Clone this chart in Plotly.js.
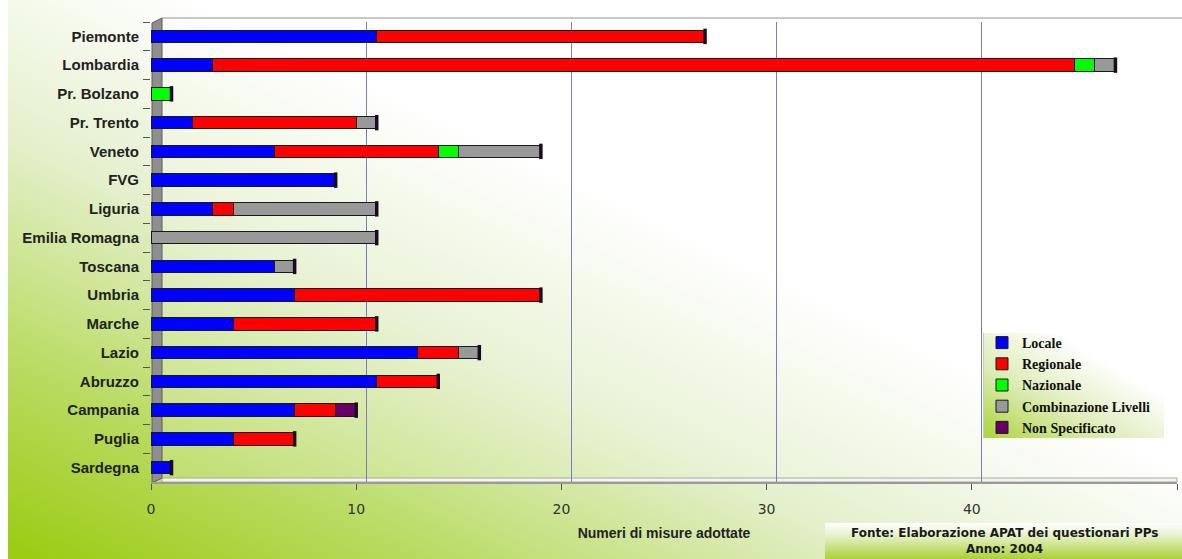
<!DOCTYPE html>
<html>
<head>
<meta charset="utf-8">
<script src="https://cdn.plot.ly/plotly-3.0.1.min.js"></script>
<style>
  html, body { margin: 0; padding: 0; background: #ffffff; }
  #wrap { position: relative; width: 1182px; height: 559px; overflow: hidden; }
  #bg {
    position: absolute; left: 8px; top: 0; width: 1174px; height: 559px;
    background: linear-gradient(to top right, #9acb10 0%, #b9db62 18%, #e4f0cc 38%, #ffffff 58%);
  }
  #legbox {
    position: absolute; left: 983px; top: 333px; width: 180px; height: 105px;
    background: linear-gradient(to top right, #9acb10 0%, #d6e9a8 35%, #ffffff 70%);
    border-left: 1px solid #b8bcd0;
  }
  #srcbox {
    position: absolute; left: 825px; top: 523px; width: 357px; height: 36px;
    background: linear-gradient(to bottom, #ffffff 0%, #e6f1c9 35%, #a9d235 100%);
  }
  #chart { position: absolute; left: 0; top: 0; width: 1182px; height: 559px; }
</style>
</head>
<body>
<div id="wrap">
  <div id="bg"></div>
  <div id="legbox"></div>
  <div id="srcbox"></div>
  <div id="chart"></div>
</div>
<script>
// Regions, top to bottom
const regions = ["Piemonte", "Lombardia", "Pr. Bolzano", "Pr. Trento", "Veneto", "FVG", "Liguria",
  "Emilia Romagna", "Toscana", "Umbria", "Marche", "Lazio", "Abruzzo", "Campania", "Puglia", "Sardegna"];

// Number of measures adopted per level of government
const locale       = [11, 3, 0, 2, 6, 9, 3, 0, 6, 7, 4, 13, 11, 7, 4, 1];
const regionale    = [16, 42, 0, 8, 8, 0, 1, 0, 0, 12, 7, 2, 3, 2, 3, 0];
const nazionale    = [0, 1, 1, 0, 1, 0, 0, 0, 0, 0, 0, 0, 0, 0, 0, 0];
const combinazione = [0, 1, 0, 1, 4, 0, 7, 11, 1, 0, 0, 1, 0, 0, 0, 0];
const nonSpec      = [0, 0, 0, 0, 0, 0, 0, 0, 0, 0, 0, 0, 0, 1, 0, 0];

const seriesNames  = ["Locale", "Regionale", "Nazionale", "Combinazione Livelli", "Non Specificato"];
const seriesValues = [locale, regionale, nazionale, combinazione, nonSpec];
const seriesColors = ["#0000ff", "#ff0000", "#00ff00", "#999999", "#660066"];

const xTicks = [0, 10, 20, 30, 40, 50];

const traces = seriesNames.map((name, i) => ({
  type: "bar",
  orientation: "h",
  name: name,
  y: regions,
  x: seriesValues[i],
  marker: { color: seriesColors[i], line: { color: "#1a1a1a", width: 1 } },
  hoverinfo: "name+x"
}));

// dark end caps of the cylinders, at each stacked total
const totals = regions.map((_, k) => seriesValues.reduce((s, arr) => s + arr[k], 0));
traces.push({
  type: "scatter",
  mode: "markers",
  x: totals,
  y: regions,
  showlegend: false,
  hoverinfo: "skip",
  marker: { symbol: "line-ns", size: 11, line: { color: "#1b0b22", width: 3.5 } }
});

// empty trace so the overlaid gridline axis is drawn
traces.unshift({ type: "scatter", x: [], y: [], xaxis: "x2", showlegend: false, hoverinfo: "skip" });

// plot area: 1026 x 460 px
const PX = 1 / 1026, PY = 1 / 460;

const shapes = [
  // back-wall top edge
  { type: "line", xref: "paper", yref: "paper", x0: 11 * PX, x1: 1 + 5 * PX, y0: 1 + 4 * PY, y1: 1 + 4 * PY,
    line: { color: "#c8c8c8", width: 2 }, layer: "below" },
  // floor
  { type: "rect", xref: "paper", yref: "paper", x0: 11 * PX, x1: 1, y0: 0, y1: 4 * PY,
    fillcolor: "#f4f6ee", line: { color: "#a8a8a8", width: 1 }, layer: "below" },
  // left side wall
  { type: "path", xref: "paper", yref: "paper",
    path: `M ${1 * PX} ${-1 * PY} L ${11 * PX} ${4 * PY} L ${11 * PX} ${1 + 4 * PY} L ${1 * PX} ${1 - 1 * PY} Z`,
    fillcolor: "#8e8e8e", line: { color: "#5a5a5a", width: 1 }, layer: "below" }
];

const layout = {
  width: 1182, height: 559,
  margin: { l: 151, r: 5, t: 22, b: 77 },
  paper_bgcolor: "rgba(0,0,0,0)",
  plot_bgcolor: "rgba(255,255,255,0.18)",
  barmode: "stack",
  bargap: 0.56,
  showlegend: true,
  font: { family: "Liberation Sans, Arial, sans-serif", color: "#222" },
  xaxis: {
    range: [0, 50],
    tickvals: xTicks,
    ticktext: xTicks.map(String),
    ticks: "outside", ticklen: 6, tickcolor: "#555", tickwidth: 1,
    ticklabelstandoff: 7,
    showgrid: false, zeroline: false,
    showline: true, linecolor: "#9a9a9a", linewidth: 2,
    tickfont: { family: "DejaVu Sans, Verdana, sans-serif", size: 14, color: "#333" },
    title: { text: "<b>Numeri di misure adottate</b>", font: { family: "Liberation Sans, Arial, sans-serif", size: 14, color: "#222" }, standoff: 12 },
    fixedrange: true
  },
  // gridlines of the back wall, set back in depth
  xaxis2: {
    overlaying: "x",
    range: [-0.49, 49.51],
    tickvals: [10, 20, 30, 40],
    showticklabels: false, ticks: "",
    showgrid: true, gridcolor: "#7c7cc4", gridwidth: 1,
    zeroline: false, showline: false,
    fixedrange: true
  },
  yaxis: {
    type: "category",
    range: [regions.length - 0.5, -0.5],
    autorange: false,
    tickson: "boundaries",
    ticks: "outside", ticklen: 7, tickcolor: "#555",
    ticklabelstandoff: 11,
    showgrid: false, zeroline: false, showline: false,
    tickfont: { family: "Liberation Sans, Arial, sans-serif", size: 15, color: "#222", weight: "bold" },
    fixedrange: true
  },
  legend: {
    x: (982 - 151) * PX, xanchor: "left",
    y: (482 - 327) * PY, yanchor: "top",
    bgcolor: "rgba(0,0,0,0)",
    borderwidth: 0,
    traceorder: "normal",
    font: { family: "Liberation Serif, Times New Roman, serif", size: 14, color: "#111", weight: "bold" },
    itemwidth: 30
  },
  shapes: shapes,
  annotations: [
    { xref: "paper", yref: "paper", x: (1004 - 151) * PX, y: (482 - 533) * PY, xanchor: "center", yanchor: "middle",
      text: "<b>Fonte: Elaborazione APAT dei questionari PPs</b>", showarrow: false,
      font: { family: "DejaVu Sans, Verdana, sans-serif", size: 12, color: "#1a1a1a" } },
    { xref: "paper", yref: "paper", x: (1004 - 151) * PX, y: (482 - 549) * PY, xanchor: "center", yanchor: "middle",
      text: "<b>Anno: 2004</b>", showarrow: false,
      font: { family: "DejaVu Sans, Verdana, sans-serif", size: 12, color: "#1a1a1a" } }
  ]
};

Plotly.newPlot("chart", traces, layout, { displayModeBar: false, staticPlot: true });
</script>
</body>
</html>
